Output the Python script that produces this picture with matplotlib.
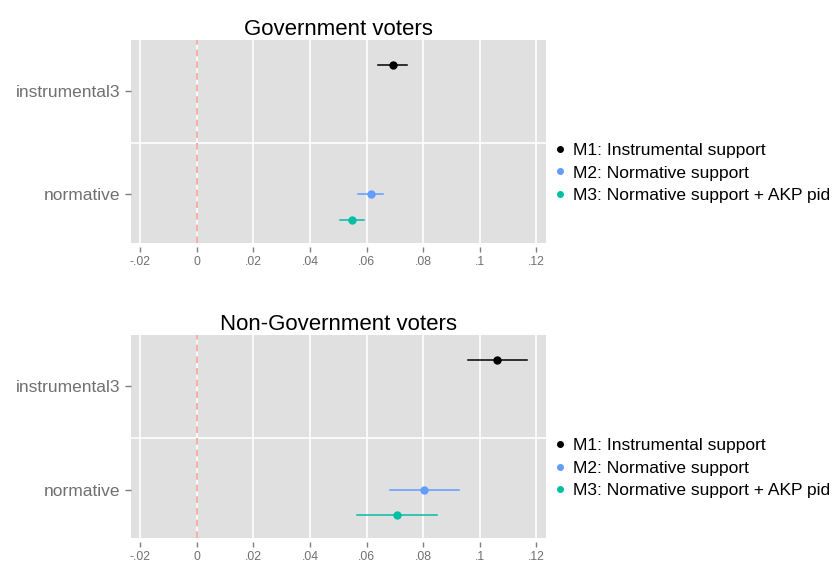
import matplotlib
matplotlib.use("Agg")
import matplotlib.pyplot as plt
from matplotlib.lines import Line2D

plt.rcParams['font.family'] = ['Liberation Sans', 'DejaVu Sans']

panels = ["Government voters", "Non-Government voters"]
categories = ["instrumental3", "normative"]
models = ["M1: Instrumental support", "M2: Normative support", "M3: Normative support + AKP pid"]
model_var = ["instrumental3", "normative", "normative"]
colors = ["#000000", "#619CFF", "#00BFA4"]

est_gov = [0.0693, 0.0615, 0.0550]
lo_gov = [0.0642, 0.0571, 0.0508]
hi_gov = [0.0744, 0.0658, 0.0592]

est_non = [0.1062, 0.0804, 0.0707]
lo_non = [0.0958, 0.0684, 0.0567]
hi_non = [0.1168, 0.0927, 0.0848]

xticks = [-0.02, 0, 0.02, 0.04, 0.06, 0.08, 0.1, 0.12]
xticklabels = ["-.02", "0", ".02", ".04", ".06", ".08", ".1", ".12"]

dodge = [0.25, 0.0, -0.25]
cat_pos = {"instrumental3": 2, "normative": 1}

fig = plt.figure(figsize=(8.39, 5.63), dpi=100)
left = 131 / 839
width = (545.7 - 131) / 839
axes_specs = [(1 - 243 / 563, 203 / 563), (1 - 538.3 / 563, 203.3 / 563)]

data = [(est_gov, lo_gov, hi_gov), (est_non, lo_non, hi_non)]

for i, (title, (est, lo, hi)) in enumerate(zip(panels, data)):
    b, h = axes_specs[i]
    ax = fig.add_axes([left, b, width, h])
    ax.set_facecolor("#E0E0E0")
    for s in ax.spines.values():
        s.set_visible(False)
    ax.spines['bottom'].set_position(('outward', 3))
    ax.set_xlim(-0.0232, 0.1233)
    ax.set_ylim(0.529, 2.494)
    for xt in xticks:
        ax.axvline(xt, color="white", lw=1.2, zorder=1)
    ax.axhline(1.5, color="white", lw=1.2, zorder=1)
    ax.axvline(0, color="#F8A09A", lw=1.2, ls=(0, (4, 3)), zorder=2)
    handles = []
    for j in range(3):
        y = cat_pos[model_var[j]] + dodge[j]
        ax.plot([lo[j], hi[j]], [y, y], color=colors[j], lw=1.1, zorder=3)
        ax.plot([est[j]], [y], marker="o", ms=5, color=colors[j], zorder=4, ls="none")
        handles.append(Line2D([], [], marker="o", ms=4, color=colors[j], ls="none"))
    ax.set_xticks(xticks)
    ax.set_xticklabels(xticklabels, fontsize=8.7, color="#707070")
    ax.set_yticks([2, 1])
    ax.set_yticklabels(categories, fontsize=12.5, color="#707070")
    ax.tick_params(axis="x", length=3.3, width=1, color="#7F7F7F", pad=3)
    ax.tick_params(axis="y", length=4.5, width=1, color="#7F7F7F", pad=3)
    ax.set_title(title, fontsize=16, pad=3)
    ax.legend(handles, models, loc="center left", bbox_to_anchor=(1.004, 0.345),
              frameon=False, fontsize=12.5, handlelength=0.6, handletextpad=0.5,
              labelspacing=0.42, borderaxespad=0)

fig.savefig("out.png", dpi=100)
